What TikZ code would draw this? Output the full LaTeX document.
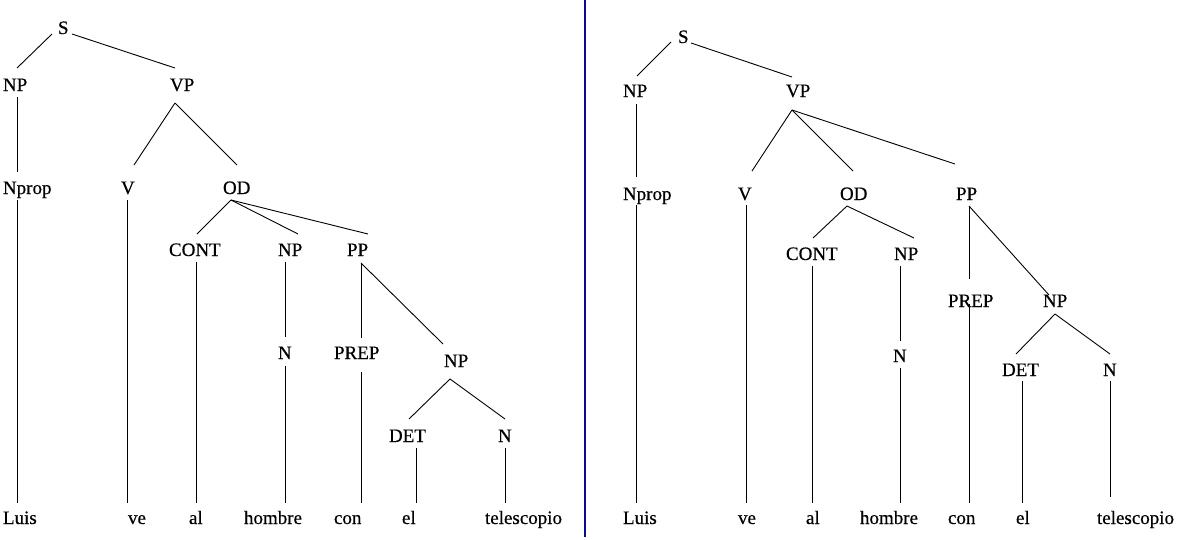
\documentclass[tikz,border=0pt]{standalone}
\usepackage{fontspec}
\setmainfont{Liberation Serif}
\newfontfamily\labfont[FakeBold=0.5]{Liberation Serif}
\definecolor{divblue}{RGB}{10,10,140}
\begin{document}
\begin{tikzpicture}[x=1pt,y=-1pt,
  lab/.style={anchor=base west,inner sep=0pt,outer sep=0pt,font=\labfont\fontsize{19}{19}\selectfont},
  edge/.style={draw=black,line width=0.9pt}]
\useasboundingbox (0,0) rectangle (1184,539);
% divider
\coordinate (divtop) at (584.7,0);
\coordinate (divbot) at (584.7,537);
\draw[divblue,line width=2.2pt] (divtop) -- (divbot);

% ===== Left tree: labels =====
\node[lab] (LS) at (58,34) {S};
\node[lab] (LNP1) at (3,91) {NP};
\node[lab] (LVP) at (170,91) {VP};
\node[lab] (LNprop) at (3,194) {Nprop};
\node[lab] (LV) at (121,194) {V};
\node[lab] (LOD) at (223,194) {OD};
\node[lab] (LCONT) at (169,256) {CONT};
\node[lab] (LNP2) at (278,256) {NP};
\node[lab] (LPP) at (347,256) {PP};
\node[lab] (LN1) at (278,359) {N};
\node[lab] (LPREP) at (334,359) {PREP};
\node[lab] (LNP3) at (444,367) {NP};
\node[lab] (LDET) at (389,442) {DET};
\node[lab] (LN2) at (498,442) {N};
\node[lab] (LLuis) at (3,524) {Luis};
\node[lab] (Lve) at (128,524) {ve};
\node[lab] (Lal) at (189,524) {al};
\node[lab] (Lhombre) at (244,524) {hombre};
\node[lab] (Lcon) at (334,524) {con};
\node[lab] (Lel) at (402,524) {el};
\node[lab] (Ltel) at (485,524) {telescopio};

% left connector ends
\coordinate (LS-bl) at (52,34); \coordinate (LS-br) at (72,34);
\coordinate (LNP1-t) at (17,68); \coordinate (LNP1-b) at (17,97);
\coordinate (LVP-t) at (175,68); \coordinate (LVP-b) at (175,103);
\coordinate (LNprop-t) at (17,172); \coordinate (LNprop-b) at (17,200);
\coordinate (LV-t) at (134,165); \coordinate (LV-b) at (127.7,200);
\coordinate (LOD-t) at (237,165); \coordinate (LOD-b) at (231,200);
\coordinate (LCONT-t) at (197,234); \coordinate (LCONT-b) at (196,262);
\coordinate (LNP2-t) at (298,234); \coordinate (LNP2-b) at (285,262);
\coordinate (LPP-t) at (368,234); \coordinate (LPP-b) at (361,263);
\coordinate (LN1-t) at (285,337); \coordinate (LN1-b) at (285,366);
\coordinate (LPREP-t) at (361,338); \coordinate (LPREP-b) at (361,372);
\coordinate (LNP3-t) at (443,344); \coordinate (LNP3-b) at (450,379);
\coordinate (LDET-t) at (409,419); \coordinate (LDET-b) at (416,448);
\coordinate (LN2-t) at (505,419); \coordinate (LN2-b) at (505,448);
\coordinate (LLuis-t) at (17,503);
\coordinate (Lve-t) at (127.7,503);
\coordinate (Lal-t) at (196,503);
\coordinate (Lhombre-t) at (285,503);
\coordinate (Lcon-t) at (361,503);
\coordinate (Lel-t) at (416,503);
\coordinate (Ltel-t) at (505,503);

\draw[edge] (LS-bl) -- (LNP1-t);
\draw[edge] (LS-br) -- (LVP-t);
\draw[edge] (LNP1-b) -- (LNprop-t);
\draw[edge] (LVP-b) -- (LV-t);
\draw[edge] (LVP-b) -- (LOD-t);
\draw[edge] (LNprop-b) -- (LLuis-t);
\draw[edge] (LV-b) -- (Lve-t);
\draw[edge] (LOD-b) -- (LCONT-t);
\draw[edge] (LOD-b) -- (LNP2-t);
\draw[edge] (LOD-b) -- (LPP-t);
\draw[edge] (LCONT-b) -- (Lal-t);
\draw[edge] (LNP2-b) -- (LN1-t);
\draw[edge] (LN1-b) -- (Lhombre-t);
\draw[edge] (LPP-b) -- (LPREP-t);
\draw[edge] (LPREP-b) -- (Lcon-t);
\draw[edge] (LPP-b) -- (LNP3-t);
\draw[edge] (LNP3-b) -- (LDET-t);
\draw[edge] (LNP3-b) -- (LN2-t);
\draw[edge] (LDET-b) -- (Lel-t);
\draw[edge] (LN2-b) -- (Ltel-t);

% ===== Right tree: labels =====
\node[lab] (RS) at (678,43) {S};
\node[lab] (RNP1) at (623,97) {NP};
\node[lab] (RVP) at (786,97) {VP};
\node[lab] (RNprop) at (623,200) {Nprop};
\node[lab] (RV) at (738,200) {V};
\node[lab] (ROD) at (840,200) {OD};
\node[lab] (RPP) at (956,200) {PP};
\node[lab] (RCONT) at (786,260) {CONT};
\node[lab] (RNP2) at (894,260) {NP};
\node[lab] (RN1) at (893,362) {N};
\node[lab] (RPREP) at (948,307) {PREP};
\node[lab] (RNP3) at (1043,307) {NP};
\node[lab] (RDET) at (1002,376) {DET};
\node[lab] (RN2) at (1103,376) {N};
\node[lab] (RLuis) at (623,524) {Luis};
\node[lab] (Rve) at (738,524) {ve};
\node[lab] (Ral) at (806,524) {al};
\node[lab] (Rhombre) at (860,524) {hombre};
\node[lab] (Rcon) at (948,524) {con};
\node[lab] (Rel) at (1016,524) {el};
\node[lab] (Rtel) at (1097,524) {telescopio};

% right connector ends
\coordinate (RS-bl) at (671,42); \coordinate (RS-br) at (691,43);
\coordinate (RNP1-t) at (637,76); \coordinate (RNP1-b) at (636,104);
\coordinate (RVP-t) at (792,77); \coordinate (RVP-b) at (792,110);
\coordinate (RNprop-t) at (636,177); \coordinate (RNprop-b) at (636,205);
\coordinate (RV-t) at (752,171); \coordinate (RV-b) at (746,205);
\coordinate (ROD-t) at (853,171); \coordinate (ROD-b) at (847,206);
\coordinate (RPP-t) at (955,164); \coordinate (RPP-b) at (969,206);
\coordinate (RCONT-t) at (813,238); \coordinate (RCONT-b) at (812,266);
\coordinate (RNP2-t) at (914,238); \coordinate (RNP2-b) at (900,266);
\coordinate (RN1-t) at (900,341); \coordinate (RN1-b) at (900,368);
\coordinate (RPREP-t) at (969,279); \coordinate (RPREP-b) at (969,304);
\coordinate (RNP3-t) at (1049,295); \coordinate (RNP3-b) at (1055,314);
\coordinate (RDET-t) at (1016,354); \coordinate (RDET-b) at (1022,381);
\coordinate (RN2-t) at (1110,354); \coordinate (RN2-b) at (1110,381);
\coordinate (RLuis-t) at (636,503);
\coordinate (Rve-t) at (746,503);
\coordinate (Ral-t) at (812,503);
\coordinate (Rhombre-t) at (900,503);
\coordinate (Rcon-t) at (969,503);
\coordinate (Rel-t) at (1022,503);
\coordinate (Rtel-t) at (1110,497);

\draw[edge] (RS-bl) -- (RNP1-t);
\draw[edge] (RS-br) -- (RVP-t);
\draw[edge] (RNP1-b) -- (RNprop-t);
\draw[edge] (RVP-b) -- (RV-t);
\draw[edge] (RVP-b) -- (ROD-t);
\draw[edge] (RVP-b) -- (RPP-t);
\draw[edge] (RNprop-b) -- (RLuis-t);
\draw[edge] (RV-b) -- (Rve-t);
\draw[edge] (ROD-b) -- (RCONT-t);
\draw[edge] (ROD-b) -- (RNP2-t);
\draw[edge] (RCONT-b) -- (Ral-t);
\draw[edge] (RNP2-b) -- (RN1-t);
\draw[edge] (RN1-b) -- (Rhombre-t);
\draw[edge] (RPP-b) -- (RPREP-t);
\draw[edge] (RPREP-b) -- (Rcon-t);
\draw[edge] (RPP-b) -- (RNP3-t);
\draw[edge] (RNP3-b) -- (RDET-t);
\draw[edge] (RNP3-b) -- (RN2-t);
\draw[edge] (RDET-b) -- (Rel-t);
\draw[edge] (RN2-b) -- (Rtel-t);
\end{tikzpicture}
\end{document}
